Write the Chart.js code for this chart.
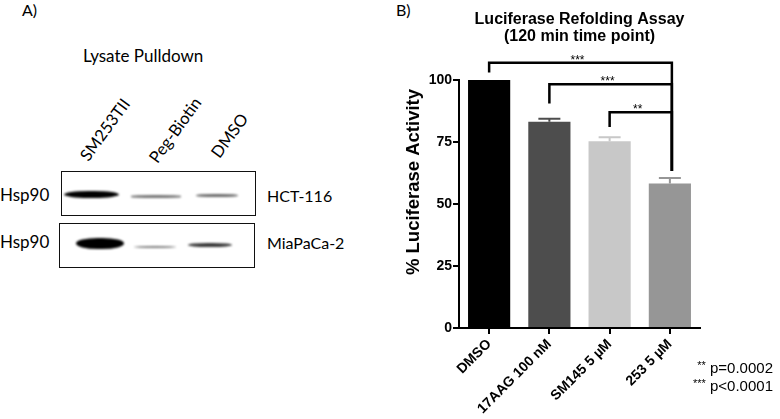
<!DOCTYPE html>
<html>
<head>
<meta charset="utf-8">
<title>Lysate pulldown / Luciferase refolding</title>
<script src="https://cdn.jsdelivr.net/npm/chart.js@4.4.1/dist/chart.umd.min.js"></script>
<style>
  html, body { margin: 0; padding: 0; background: #fff; }
  #page { position: relative; width: 780px; height: 419px; overflow: hidden; color: #000;
          font-family: Lato, "Open Sans", sans-serif; }
  .abs { position: absolute; white-space: nowrap; line-height: 1; }
  .blot { position: absolute; border: 1.5px solid #111; box-sizing: border-box; background: #fff; overflow: hidden; }
  .band { position: absolute; border-radius: 45% / 50%; }
  .lane-label { position: absolute; white-space: nowrap; font-size: 16.5px; line-height: 18px;
                transform-origin: 0 100%; transform: rotate(-54deg); }
  #chart-refolding { position: absolute; left: 400px; top: 0; }
  .plegend { position: absolute; right: 7px; font-family: "Liberation Sans", Arial, sans-serif;
             font-size: 15px; line-height: 1; text-align: right; white-space: nowrap; }
  .plegend span { font-size: 11px; vertical-align: 4px; }
</style>
</head>
<body>
<div id="page">
  <div class="abs" style="left:22px;top:2px;font-size:16px">A)</div>
  <div class="abs" style="left:83px;top:47px;font-size:17px">Lysate Pulldown</div>
  <div class="abs" style="left:396px;top:2px;font-size:16px">B)</div>
  <div id="blot-panel"></div>
  <canvas id="chart-refolding" width="380" height="419"></canvas>
  <div class="plegend" style="top:360px"><span>**</span> p=0.0002</div>
  <div class="plegend" style="top:378px"><span>***</span> p&lt;0.0001</div>
</div>
<script>
  // --- panel A: pulldown blot (relative band intensity per lane) ---
  var laneNames = ['SM253TII', 'Peg-Biotin', 'DMSO'];
  var cellLines = ['HCT-116', 'MiaPaCa-2'];
  var bandsHct116 = [1.0, 0.3, 0.35];
  var bandsMiaPaCa = [1.0, 0.25, 0.6];

  // --- panel B: luciferase refolding at 120 min ---
  var categories = ['DMSO', '17AAG 100 nM', 'SM145 5 \u00b5M', '253 5 \u00b5M'];
  var activity = [100, 83.2, 75.3, 58.3];
  var errorUp = [0, 1.2, 1.6, 2.2];
  var yTicks = [0, 25, 50, 75, 100];
  var bracketFrom = [0, 1, 2];
  var bracketTo = [3, 3, 3];
  var bracketLevel = [107, 98.3, 87];
  var bracketFoot = [103, 90.5, 81];
  var bracketEnd = 63.3;
  var bracketStars = ['***', '***', '**'];

  var barColors = ['#000000', '#4d4d4d', '#c8c8c8', '#969696'];

  function buildBlot() {
    var panel = document.getElementById('blot-panel');
    var rows = [bandsHct116, bandsMiaPaCa];
    // layout of the two membrane strips
    var boxes = [
      { left: 61, top: 171, width: 195, height: 45, labelY: 186 },
      { left: 59, top: 223, width: 196, height: 45, labelY: 233 }
    ];
    var bandBoxes = [
      [{ x: 2, w: 55, y: 19 }, { x: 69, w: 50, y: 21 }, { x: 134, w: 42, y: 20 }],
      [{ x: 16, w: 48, y: 13 }, { x: 74, w: 42, y: 17 }, { x: 128, w: 44, y: 15 }]
    ];
    var laneLabelPos = [[91, 164], [160, 166], [222, 161]];

    laneNames.forEach(function (name, i) {
      var d = document.createElement('div');
      d.className = 'lane-label';
      d.textContent = name;
      d.style.left = laneLabelPos[i][0] + 'px';
      d.style.top = (laneLabelPos[i][1] - 18) + 'px';
      panel.appendChild(d);
    });

    rows.forEach(function (row, r) {
      var b = boxes[r];
      var box = document.createElement('div');
      box.className = 'blot';
      box.style.left = b.left + 'px';
      box.style.top = b.top + 'px';
      box.style.width = b.width + 'px';
      box.style.height = b.height + 'px';
      row.forEach(function (v, i) {
        var pos = bandBoxes[r][i];
        var strong = v > 0.9;
        var h = strong ? (r === 0 ? 7 : 11) : 1.8 + 6 * Math.max(0, v - 0.25);
        var band = document.createElement('div');
        band.className = 'band';
        band.style.left = pos.x + 'px';
        band.style.width = pos.w + 'px';
        band.style.top = (pos.y + (r === 0 ? 7 - h : 12 - h) / 2) + 'px';
        band.style.height = h + 'px';
        band.style.background = 'rgba(0,0,0,' + (strong ? 1 : 0.3 + v * 0.8) + ')';
        band.style.filter = 'blur(' + (strong ? 1.1 : 0.9) + 'px)';
        box.appendChild(band);
      });
      panel.appendChild(box);

      var lbl = document.createElement('div');
      lbl.className = 'abs';
      lbl.style.left = '0px';
      lbl.style.top = b.labelY + 'px';
      lbl.style.fontSize = '17px';
      lbl.textContent = 'Hsp90';
      panel.appendChild(lbl);

      var cl = document.createElement('div');
      cl.className = 'abs';
      cl.style.left = '267px';
      cl.style.top = (b.labelY + 2) + 'px';
      cl.style.fontSize = '16px';
      cl.textContent = cellLines[r];
      panel.appendChild(cl);
    });
  }

  var chartFont = '"Liberation Sans", Arial, sans-serif';

  var refoldingDecor = {
    id: 'refoldingDecor',
    afterDatasetsDraw: function (chart) {
      var ctx = chart.ctx;
      var xs = chart.scales.x;
      var ys = chart.scales.y;
      ctx.save();

      // error bars (upper only, same tone as bar)
      activity.forEach(function (v, i) {
        if (!errorUp[i]) return;
        var cx = xs.getPixelForValue(i);
        var y0 = ys.getPixelForValue(v);
        var y1 = ys.getPixelForValue(v + errorUp[i]);
        ctx.strokeStyle = barColors[i];
        ctx.lineWidth = 2;
        ctx.beginPath();
        ctx.moveTo(cx, y0);
        ctx.lineTo(cx, y1);
        ctx.moveTo(cx - 11, y1);
        ctx.lineTo(cx + 11, y1);
        ctx.stroke();
      });

      // significance brackets
      ctx.strokeStyle = '#000';
      ctx.lineWidth = 2.5;
      ctx.lineJoin = 'miter';
      ctx.fillStyle = '#000';
      ctx.font = '12px ' + chartFont;
      ctx.textAlign = 'center';
      ctx.textBaseline = 'alphabetic';
      bracketFrom.forEach(function (from, k) {
        var xa = xs.getPixelForValue(from);
        var xb = xs.getPixelForValue(bracketTo[k]) + 2;
        var yl = ys.getPixelForValue(bracketLevel[k]);
        ctx.beginPath();
        ctx.moveTo(xa, ys.getPixelForValue(bracketFoot[k]));
        ctx.lineTo(xa, yl);
        ctx.lineTo(xb, yl);
        ctx.lineTo(xb, ys.getPixelForValue(bracketEnd));
        ctx.stroke();
        ctx.fillText(bracketStars[k], (xa + xb) / 2 - 3, yl + 1);
      });
      ctx.restore();
    },
    afterDraw: function (chart) {
      var ctx = chart.ctx;
      var area = chart.chartArea;
      var cx = (area.left + area.right) / 2;
      ctx.save();
      ctx.fillStyle = '#000';
      ctx.textAlign = 'center';
      ctx.textBaseline = 'middle';
      ctx.font = 'bold 16px ' + chartFont;
      ctx.fillText('Luciferase Refolding Assay', cx, 20);
      ctx.fillText('(120 min time point)', cx, 37);

      ctx.translate(14, 182);
      ctx.rotate(-Math.PI / 2);
      ctx.font = 'bold 18.5px ' + chartFont;
      ctx.fillText('% Luciferase Activity', 0, 0);
      ctx.restore();
    }
  };

  function initRefoldingChart() {
    if (typeof Chart === 'undefined') return;
    var canvas = document.getElementById('chart-refolding');
    new Chart(canvas, {
      type: 'bar',
      data: {
        labels: categories,
        datasets: [{
          data: activity,
          backgroundColor: barColors,
          borderWidth: 0,
          barPercentage: 0.7,
          categoryPercentage: 1
        }]
      },
      options: {
        responsive: false,
        animation: false,
        devicePixelRatio: 1,
        layout: { padding: { top: 80, right: 80, bottom: 0, left: 0 } },
        scales: {
          x: {
            offset: true,
            grid: { display: true, offset: false, drawOnChartArea: false, drawTicks: true,
                    tickLength: 6, color: '#000', lineWidth: 2 },
            border: { color: '#000', width: 2 },
            ticks: {
              color: '#000', autoSkip: false, minRotation: 45, maxRotation: 45, padding: 2,
              font: { family: chartFont, size: 14, weight: 'bold' }
            },
            afterFit: function (s) { s.height = 91; }
          },
          y: {
            min: 0,
            max: 100,
            grid: { display: true, drawOnChartArea: false, drawTicks: true,
                    tickLength: 6, color: '#000', lineWidth: 2 },
            border: { color: '#000', width: 2 },
            afterBuildTicks: function (s) {
              s.ticks = yTicks.map(function (v) { return { value: v }; });
            },
            ticks: {
              color: '#000', padding: 1,
              font: { family: chartFont, size: 14, weight: 'bold' }
            },
            afterFit: function (s) { s.width = 59; }
          }
        },
        plugins: {
          legend: { display: false },
          title: { display: false },
          tooltip: { enabled: false }
        }
      },
      plugins: [refoldingDecor]
    });
  }

  buildBlot();
  initRefoldingChart();
</script>
</body>
</html>
